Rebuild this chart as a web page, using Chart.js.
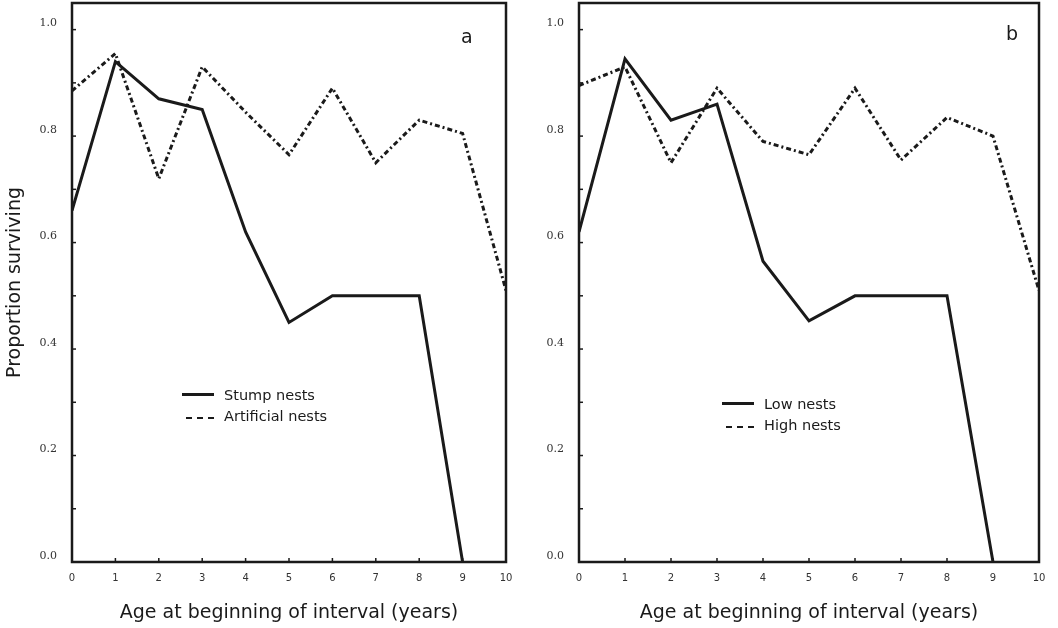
<!DOCTYPE html>
<html lang="en">
<head>
  <meta charset="UTF-8">
  <title>Proportion surviving by nest age</title>
  <script src="https://cdn.jsdelivr.net/npm/chart.js"></script>
  <style>
    body { margin: 0; background: #fff; }
    #wrap { position: relative; width: 1058px; height: 628px; overflow: hidden; font-family: "DejaVu Sans", sans-serif; color: #1a1a1a; }
    .panel { position: absolute; top: 0; width: 529px; height: 628px; }
    #panelA { left: 0; }
    #panelB { left: 529px; }
    .tag { position: absolute; font-size: 19px; line-height: 1; }
    .leg { position: absolute; font-size: 14.5px; line-height: 21px; }
    .leg div { position: relative; padding-left: 42px; white-space: nowrap; }
    .leg span { position: absolute; left: 0; top: 10px; width: 32px; height: 0; }
    .solid { border-top: 3px solid #1a1a1a; top: 8px !important; }
    .dash { border-top: 2.5px dashed #1a1a1a; width: 28px !important; left: 4px !important; top: 11px !important; }
  </style>
</head>
<body>
<div id="wrap">
  <div class="panel" id="panelA"><canvas id="chartA"></canvas></div>
  <div class="panel" id="panelB"><canvas id="chartB"></canvas></div>
  <div class="tag" style="left:461px; top:27px;">a</div>
  <div class="tag" style="left:1006px; top:24px;">b</div>
  <div class="leg" style="left:182px; top:385px;">
    <div><span class="solid"></span>Stump nests</div>
    <div><span class="dash"></span>Artificial nests</div>
  </div>
  <div class="leg" style="left:722px; top:394px;">
    <div><span class="solid"></span>Low nests</div>
    <div><span class="dash"></span>High nests</div>
  </div>
</div>
<script>
  // ages (x) and proportions surviving
  const ages = [0, 1, 2, 3, 4, 5, 6, 7, 8, 9, 10];
  const stumpNests      = [0.66, 0.94, 0.87, 0.85, 0.62, 0.45, 0.50, 0.50, 0.50, 0.00];
  const artificialNests = [0.885, 0.955, 0.72, 0.93, 0.845, 0.765, 0.89, 0.75, 0.83, 0.805, 0.51];
  const lowNests        = [0.62, 0.945, 0.83, 0.86, 0.565, 0.453, 0.50, 0.50, 0.50, 0.00];
  const highNests       = [0.895, 0.93, 0.75, 0.89, 0.79, 0.765, 0.89, 0.755, 0.835, 0.80, 0.51];
  const yTicks = [0, 0.2, 0.4, 0.6, 0.8, 1.0];
  const yMinor = [0.1, 0.3, 0.5, 0.7, 0.9];

  const ink = '#1a1a1a';

  function pts(vals) {
    return vals.map((v, i) => ({ x: ages[i], y: v }));
  }

  // box round the plot + small inward ticks
  const framePlugin = {
    id: 'frame',
    afterDatasetsDraw(chart) {
      const { ctx, chartArea: a, scales } = chart;
      ctx.save();
      ctx.strokeStyle = ink;
      ctx.lineWidth = 1.5;
      ages.forEach(v => {
        const x = scales.x.getPixelForValue(v);
        ctx.beginPath(); ctx.moveTo(x, a.bottom); ctx.lineTo(x, a.bottom - 4); ctx.stroke();
      });
      yTicks.concat(yMinor).forEach(v => {
        const y = scales.y.getPixelForValue(v);
        ctx.beginPath(); ctx.moveTo(a.left, y); ctx.lineTo(a.left + 4, y); ctx.stroke();
      });
      ctx.lineWidth = 2.5;
      ctx.strokeRect(a.left, a.top, a.right - a.left, a.bottom - a.top);
      ctx.restore();
    }
  };

  function makeChart(id, solid, dashed, names, yWidth, padRight, showTitle) {
    const ctx = document.getElementById(id).getContext('2d');
    return new Chart(ctx, {
      type: 'line',
      data: {
        datasets: [{
          label: names[0],
          data: pts(solid),
          borderColor: ink,
          borderWidth: 3,
          pointRadius: 0,
          tension: 0,
          fill: false
        }, {
          label: names[1],
          data: pts(dashed),
          borderColor: ink,
          borderWidth: 3,
          borderDash: [5, 3, 2, 3],
          pointRadius: 0,
          tension: 0,
          fill: false
        }]
      },
      options: {
        responsive: true,
        maintainAspectRatio: false,
        animation: false,
        layout: { padding: { top: 3, right: padRight, bottom: 0, left: 0 } },
        plugins: {
          legend: { display: false },
          tooltip: { enabled: false }
        },
        scales: {
          x: {
            type: 'linear',
            min: 0,
            max: 10,
            afterFit: s => { s.height = 66; s.paddingLeft = 0; s.paddingRight = 0; },
            afterBuildTicks: s => { s.ticks = ages.map(v => ({ value: v })); },
            grid: { display: false, drawTicks: false },
            border: { display: false },
            ticks: {
              padding: 10,
              color: '#333',
              font: { family: 'DejaVu Sans', size: 10 },
              maxRotation: 0,
              autoSkip: false,
              callback: v => String(v)
            },
            title: {
              display: true,
              text: 'Age at beginning of interval (years)',
              color: ink,
              font: { family: 'DejaVu Sans', size: 19 },
              padding: { top: 0, bottom: 4 }
            }
          },
          y: {
            type: 'linear',
            min: 0,
            max: 1.05,
            afterFit: s => { s.width = yWidth; s.paddingTop = 0; s.paddingBottom = 0; },
            afterBuildTicks: s => { s.ticks = yTicks.map(v => ({ value: v })); },
            grid: { display: false, drawTicks: false },
            border: { display: false },
            ticks: {
              padding: 15,
              labelOffset: -6,
              color: '#333',
              font: { family: 'DejaVu Serif', size: 11 },
              callback: v => v.toFixed(1)
            },
            title: {
              display: showTitle,
              text: 'Proportion surviving',
              color: ink,
              font: { family: 'DejaVu Sans', size: 19 },
              padding: { top: 4, bottom: 0 }
            }
          }
        }
      },
      plugins: [framePlugin]
    });
  }

  makeChart('chartA', stumpNests, artificialNests, ['Stump nests', 'Artificial nests'], 72, 23, true);
  makeChart('chartB', lowNests, highNests, ['Low nests', 'High nests'], 50, 19, false);
</script>
</body>
</html>
